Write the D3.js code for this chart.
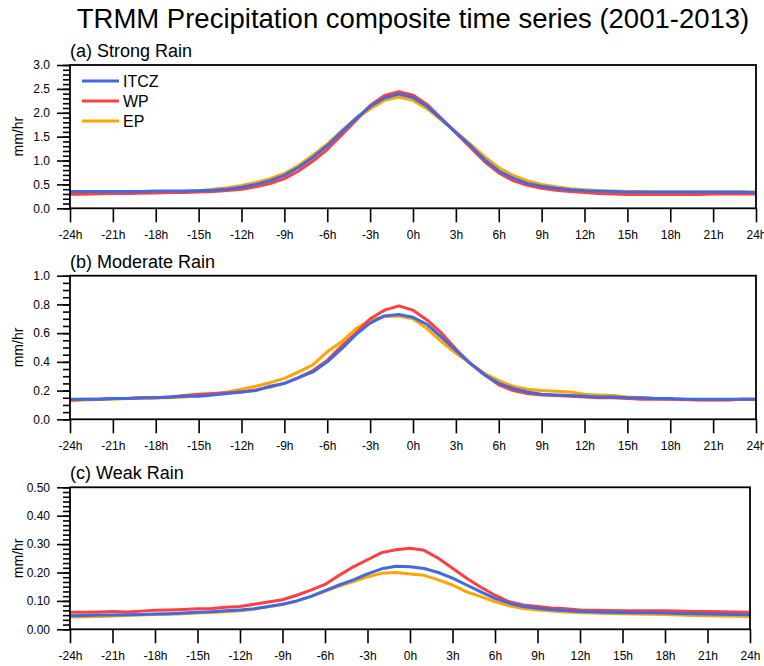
<!DOCTYPE html>
<html>
<head>
<meta charset="utf-8">
<script src="https://cdn.jsdelivr.net/npm/d3@7/dist/d3.min.js"></script>
<style>
  body { margin: 0; background: #fff; }
  svg { font-family: "Liberation Sans", Arial, Helvetica, sans-serif; }
</style>
</head>
<body>
<div id="chart"></div>
<script>
// hourly composite, -24h .. 24h
const hours = d3.range(-24, 25);
const xTicks = d3.range(-24, 25, 3);
const seriesNames = ['ITCZ', 'WP', 'EP'];

// (a) Strong Rain
const strongITCZ = [0.35, 0.35, 0.35, 0.35, 0.35, 0.35, 0.36, 0.36, 0.36, 0.37, 0.38, 0.40, 0.44, 0.50, 0.58, 0.69, 0.86, 1.07, 1.31, 1.60, 1.88, 2.13, 2.31, 2.39, 2.32, 2.13, 1.86, 1.59, 1.32, 1.02, 0.78, 0.63, 0.52, 0.46, 0.42, 0.39, 0.37, 0.36, 0.35, 0.34, 0.34, 0.34, 0.34, 0.34, 0.34, 0.34, 0.34, 0.34, 0.33];
const strongWP = [0.30, 0.30, 0.31, 0.31, 0.31, 0.32, 0.32, 0.33, 0.33, 0.34, 0.35, 0.37, 0.40, 0.45, 0.52, 0.62, 0.78, 0.99, 1.23, 1.53, 1.84, 2.15, 2.36, 2.44, 2.37, 2.17, 1.88, 1.58, 1.28, 0.98, 0.74, 0.58, 0.48, 0.42, 0.38, 0.35, 0.33, 0.31, 0.30, 0.29, 0.29, 0.29, 0.29, 0.29, 0.29, 0.30, 0.30, 0.30, 0.30];
const strongEP = [0.29, 0.30, 0.30, 0.31, 0.31, 0.32, 0.33, 0.34, 0.35, 0.37, 0.40, 0.43, 0.48, 0.54, 0.62, 0.73, 0.90, 1.11, 1.35, 1.62, 1.88, 2.08, 2.26, 2.33, 2.26, 2.08, 1.84, 1.60, 1.35, 1.08, 0.85, 0.69, 0.58, 0.50, 0.45, 0.41, 0.39, 0.37, 0.36, 0.35, 0.35, 0.34, 0.34, 0.34, 0.34, 0.34, 0.34, 0.34, 0.34];

// (b) Moderate Rain
const moderateITCZ = [0.14, 0.14, 0.14, 0.145, 0.145, 0.15, 0.15, 0.155, 0.16, 0.16, 0.17, 0.18, 0.19, 0.20, 0.23, 0.25, 0.29, 0.33, 0.40, 0.49, 0.59, 0.67, 0.72, 0.73, 0.71, 0.66, 0.57, 0.48, 0.39, 0.31, 0.25, 0.215, 0.19, 0.175, 0.17, 0.165, 0.16, 0.155, 0.155, 0.15, 0.15, 0.145, 0.145, 0.14, 0.14, 0.14, 0.14, 0.14, 0.14];
const moderateWP = [0.135, 0.14, 0.14, 0.145, 0.145, 0.15, 0.15, 0.155, 0.165, 0.175, 0.18, 0.185, 0.19, 0.205, 0.225, 0.25, 0.29, 0.34, 0.41, 0.51, 0.60, 0.70, 0.76, 0.79, 0.76, 0.69, 0.60, 0.49, 0.39, 0.31, 0.24, 0.20, 0.18, 0.17, 0.165, 0.16, 0.155, 0.15, 0.15, 0.145, 0.14, 0.14, 0.14, 0.14, 0.135, 0.135, 0.135, 0.14, 0.14];
const moderateEP = [0.13, 0.135, 0.14, 0.14, 0.145, 0.145, 0.15, 0.15, 0.155, 0.165, 0.175, 0.19, 0.21, 0.23, 0.255, 0.285, 0.33, 0.38, 0.47, 0.54, 0.63, 0.69, 0.715, 0.72, 0.70, 0.63, 0.54, 0.46, 0.39, 0.32, 0.27, 0.23, 0.21, 0.20, 0.195, 0.19, 0.175, 0.17, 0.165, 0.155, 0.15, 0.145, 0.14, 0.137, 0.137, 0.137, 0.137, 0.14, 0.14];

// (c) Weak Rain
const weakITCZ = [0.048, 0.049, 0.05, 0.05, 0.051, 0.052, 0.054, 0.055, 0.057, 0.06, 0.062, 0.065, 0.068, 0.072, 0.08, 0.088, 0.10, 0.116, 0.136, 0.156, 0.174, 0.195, 0.213, 0.222, 0.22, 0.214, 0.20, 0.18, 0.156, 0.132, 0.109, 0.092, 0.080, 0.074, 0.069, 0.066, 0.063, 0.061, 0.06, 0.059, 0.058, 0.058, 0.057, 0.056, 0.055, 0.054, 0.053, 0.052, 0.051];
const weakWP = [0.060, 0.060, 0.061, 0.063, 0.061, 0.064, 0.067, 0.068, 0.070, 0.072, 0.073, 0.078, 0.080, 0.088, 0.096, 0.104, 0.12, 0.138, 0.158, 0.19, 0.22, 0.245, 0.27, 0.28, 0.285, 0.278, 0.25, 0.215, 0.18, 0.148, 0.12, 0.097, 0.086, 0.080, 0.075, 0.072, 0.068, 0.067, 0.066, 0.065, 0.065, 0.065, 0.065, 0.064, 0.063, 0.063, 0.062, 0.061, 0.060];
const weakEP = [0.043, 0.044, 0.045, 0.047, 0.049, 0.050, 0.052, 0.053, 0.055, 0.057, 0.059, 0.062, 0.065, 0.071, 0.079, 0.087, 0.099, 0.115, 0.134, 0.152, 0.168, 0.185, 0.197, 0.20, 0.195, 0.19, 0.174, 0.156, 0.132, 0.115, 0.097, 0.083, 0.073, 0.068, 0.064, 0.061, 0.058, 0.057, 0.056, 0.055, 0.054, 0.053, 0.052, 0.050, 0.049, 0.048, 0.047, 0.046, 0.045];

const colors = { ITCZ: '#4169E1', WP: '#FF4040', EP: '#FFA500' };

const panels = [
  { title: '(a) Strong Rain', data: { ITCZ: strongITCZ, WP: strongWP, EP: strongEP },
    top: 65, bottom: 208.3, left: 70, right: 756, ymax: 3.0, major: 0.5, minorPer: 5, fmt: '.1f', legend: true },
  { title: '(b) Moderate Rain', data: { ITCZ: moderateITCZ, WP: moderateWP, EP: moderateEP },
    top: 275.7, bottom: 419.3, left: 70, right: 756, ymax: 1.0, major: 0.2, minorPer: 4, fmt: '.1f' },
  { title: '(c) Weak Rain', data: { ITCZ: weakITCZ, WP: weakWP, EP: weakEP },
    top: 487.3, bottom: 629.3, left: 70, right: 750, ymax: 0.5, major: 0.1, minorPer: 6, fmt: '.2f' },
];

const W = 764, H = 666;

let svg = d3.select('#chart')
  .append('svg')
  .attr('width', W)
  .attr('height', H);

svg.append('text')
  .attr('x', 413)
  .attr('y', 28)
  .attr('text-anchor', 'middle')
  .attr('font-size', 27.5)
  .text('TRMM Precipitation composite time series (2001-2013)');

panels.forEach((p) => {
  let x = d3.scaleLinear().domain([-24, 24]).range([p.left, p.right]);
  let y = d3.scaleLinear().domain([0, p.ymax]).range([p.bottom, p.top]);

  let g = svg.append('g');

  // subtitle
  g.append('text')
    .attr('x', p.left)
    .attr('y', p.top - 8)
    .attr('font-size', 18)
    .text(p.title);

  // y label
  g.append('text')
    .attr('transform', `translate(23,${(p.top + p.bottom) / 2}) rotate(-90)`)
    .attr('text-anchor', 'middle')
    .attr('font-size', 14)
    .text('mm/hr');

  // lines, EP first so ITCZ ends on top
  let line = d3.line()
    .x((d, i) => x(hours[i]))
    .y((d) => y(d));

  ['EP', 'WP', 'ITCZ'].forEach((name) => {
    g.append('path')
      .datum(p.data[name])
      .attr('d', line)
      .attr('fill', 'none')
      .attr('stroke', colors[name])
      .attr('stroke-width', 3)
      .attr('stroke-linejoin', 'round');
  });

  // minor y ticks
  let nMinor = Math.round(p.ymax / p.major * p.minorPer);
  let minorTicks = d3.range(0, nMinor + 1).map((k) => k * p.major / p.minorPer);
  g.append('g')
    .attr('transform', `translate(${p.left},0)`)
    .call(d3.axisLeft(y).tickValues(minorTicks).tickSize(7).tickFormat(''))
    .call((a) => a.select('.domain').remove());

  // major y ticks
  let majorTicks = d3.range(0, Math.round(p.ymax / p.major) + 1).map((k) => k * p.major);
  g.append('g')
    .attr('transform', `translate(${p.left},0)`)
    .call(d3.axisLeft(y).tickValues(majorTicks).tickSize(13).tickPadding(7).tickFormat(d3.format(p.fmt)))
    .call((a) => a.select('.domain').remove());

  // x ticks
  g.append('g')
    .attr('transform', `translate(0,${p.bottom})`)
    .call(d3.axisBottom(x).tickValues(xTicks).tickSize(14).tickPadding(8).tickFormat((d) => d + 'h'))
    .call((a) => a.select('.domain').remove());

  g.selectAll('.tick line').attr('stroke-width', 1.6);
  g.selectAll('.tick text').attr('font-size', 12).attr('fill', '#000');

  // frame
  g.append('rect')
    .attr('x', p.left)
    .attr('y', p.top)
    .attr('width', p.right - p.left)
    .attr('height', p.bottom - p.top)
    .attr('fill', 'none')
    .attr('stroke', '#000')
    .attr('stroke-width', 1.8);

  if (p.legend) {
    seriesNames.forEach((name, i) => {
      let ly = 81 + i * 20;
      g.append('line')
        .attr('x1', 82).attr('x2', 119)
        .attr('y1', ly).attr('y2', ly)
        .attr('stroke', colors[name])
        .attr('stroke-width', 3);
      g.append('text')
        .attr('x', 123)
        .attr('y', ly)
        .attr('dy', '0.36em')
        .attr('font-size', 16)
        .text(name);
    });
  }
});
</script>
</body>
</html>
